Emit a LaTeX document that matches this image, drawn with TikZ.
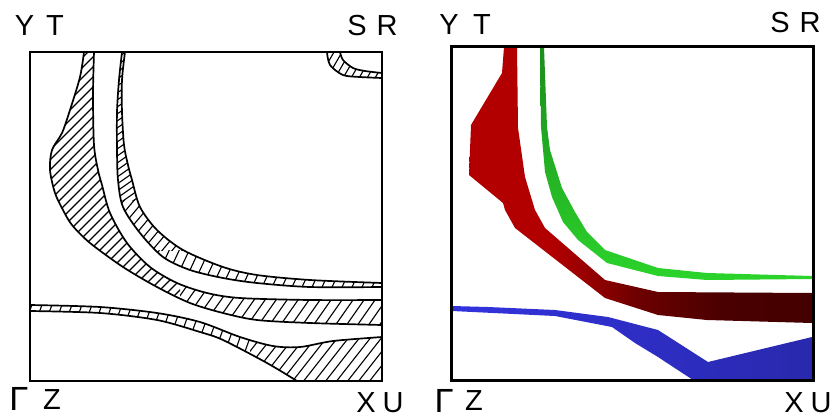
\documentclass[tikz,border=0pt]{standalone}
\usepackage{fontspec}
\setmainfont{Liberation Sans}
\newfontfamily\gammafont{Liberation Mono}
\definecolor{rA}{rgb}{0.70,0,0}
\definecolor{rB}{rgb}{0.42,0,0}
\definecolor{rC}{rgb}{0.29,0,0}
\definecolor{rD}{rgb}{0.27,0,0}
\definecolor{gTop}{rgb}{0.11,0.55,0.11}
\definecolor{gBot}{rgb}{0.17,0.83,0.17}
\definecolor{bL}{rgb}{0.20,0.20,0.87}
\definecolor{bR}{rgb}{0.16,0.16,0.68}
\pgfdeclarehorizontalshading{redsh}{100bp}{color(0bp)=(rA); color(25bp)=(rA); color(37bp)=(rA); color(50bp)=(rB); color(62bp)=(rC); color(75bp)=(rD); color(100bp)=(rD)}
\newcommand{\hatchset}[4]{\foreach \c in {#2,#3,...,#4} \draw[hatchline] (\c,420) -- ++(#1,-420);}
\def\bandA{plot[smooth] coordinates {(94,52) (93,95) (94,145) (98,170) (102,185) (110,213) (127,243) (150,267) (177,283) (207,293) (240,298) (310,300) (382,300)} -- (382,325) -- plot[smooth] coordinates {(382,325) (310,323) (257,320) (223,313) (190,303) (157,287) (123,267) (90,243) (72,225) (63,210) (55,193) (50,170) (52,150) (62,133) (70,110) (80,77) (84,52)} -- cycle}
\def\bandB{plot[smooth] coordinates {(125,52) (122,80) (122,112) (124,145) (128,165) (132,180) (140,207) (157,230) (183,250) (223,267) (257,275) (310,280) (382,283)} -- (382,287) -- plot[smooth] coordinates {(382,287) (310,287) (257,283) (223,278) (190,270) (163,257) (140,233) (123,207) (118,180) (117,150) (117,112) (119,80) (122,52)} -- cycle}
\def\bandC{plot[smooth] coordinates {(30,305) (100,307) (157,313) (200,322) (240,337) (273,346) (300,347) (333,341) (382,337)} -- (382,381) -- plot[smooth] coordinates {(297,381) (267,363) (223,340) (200,332) (157,320) (100,313) (30,311)} -- cycle}
\def\bandD{plot[smooth] coordinates {(327,52) (330,65) (343,75) (360,77) (382,78)} -- (382,73) -- plot[smooth] coordinates {(382,73) (365,71) (353,68) (343,60) (340,52)} -- cycle}
\begin{document}
\begin{tikzpicture}[x=1pt,y=-1pt,
  lbl/.style={font=\fontsize{29}{29}\selectfont, inner sep=0pt, anchor=center},
  glbl/.style={font=\fontsize{35}{35}\selectfont\gammafont, inner sep=0pt, anchor=center},
  bandline/.style={line width=1.7pt, line join=round},
  hatchline/.style={line width=1.1pt},
  frameA/.style={line width=2.4pt},
  frameB/.style={line width=3pt}]
\useasboundingbox (0,0) rectangle (835,418);
% ---------- left panel ----------
\begin{scope}
  \clip \bandA;
  \begin{scope}
    \clip (0,0) rectangle (180,420);
    \hatchset{420}{-340}{-330}{90}
  \end{scope}
  \begin{scope}
    \clip (180,0) rectangle (420,420);
    \hatchset{294}{60}{71}{340}
  \end{scope}
\end{scope}
\draw[bandline] \bandA;
\begin{scope}
  \clip \bandB;
  \begin{scope}
    \clip (0,0) rectangle (420,200);
    \hatchset{600}{-430}{-420}{-160}
  \end{scope}
  \begin{scope}
    \clip (0,200) rectangle (420,250);
    \hatchset{352}{-80}{-70}{60}
  \end{scope}
  \begin{scope}
    \clip (0,250) rectangle (420,420);
    \hatchset{196}{70}{80}{340}
  \end{scope}
\end{scope}
\draw[bandline] \bandB;
\begin{scope}
  \clip \bandC;
  \begin{scope}
    \clip (0,0) rectangle (250,420);
    \hatchset{153}{-40}{-30}{260}
  \end{scope}
  \begin{scope}
    \clip (250,0) rectangle (420,420);
    \hatchset{330}{130}{141}{380}
  \end{scope}
\end{scope}
\draw[bandline] \bandC;
\begin{scope}
  \clip \bandD;
  \hatchset{242}{90}{98}{210}
\end{scope}
\draw[bandline] \bandD;
\draw[frameA] (30,52) rectangle (382,381);
% ---------- right panel ----------
\shade[shading=redsh]
  (517,47) -- (518,128) -- (525,177) -- (535,210) -- (545,228) -- (605,280) -- (658,292) -- (812,293)
  -- (812,323) -- (707,320) -- (658,315) -- (605,298) -- (515,228) -- (505,210) -- (503,203)
  -- (469,175) -- (471,125) -- (502,73) -- (504,47) -- cycle;
\shade[top color=gTop, bottom color=gBot]
  (540,47) -- (541,127) -- (545,172) -- (552,197) -- (563,222) -- (578,240) -- (607,263) -- (658,276) -- (707,280) -- (812,279)
  -- (812,276) -- (707,273) -- (658,268) -- (605,250) -- (587,232) -- (575,212) -- (562,188) -- (550,150) -- (547,127) -- (544,47) -- cycle;
\shade[left color=bL, right color=bR]
  (452,306) -- (488,307) -- (555,310) -- (608,317) -- (658,330) -- (708,362) -- (812,337)
  -- (812,380) -- (693,380) -- (658,357) -- (635,343) -- (612,327) -- (555,316) -- (452,311) -- cycle;
\draw[frameB] (451,46) rectangle (813,380);
% ---------- labels ----------
\node[lbl] (Y1) at (24.5,26) {Y};
\node[lbl] (T1) at (55,26) {T};
\node[lbl] (S1) at (357,26) {S};
\node[lbl] (R1) at (387,26) {R};
\node[glbl] (G1) at (19,399) {Γ};
\node[lbl] (Z1) at (52,400) {Z};
\node[lbl] (X1) at (366,403) {X};
\node[lbl] (U1) at (393,403) {U};
\node[lbl] (Y2) at (449,25) {Y};
\node[lbl] (T2) at (482,25) {T};
\node[lbl] (S2) at (780,23) {S};
\node[lbl] (R2) at (810,23) {R};
\node[glbl] (G2) at (444,401) {Γ};
\node[lbl] (Z2) at (474,401) {Z};
\node[lbl] (X2) at (794,403) {X};
\node[lbl] (U2) at (821,403) {U};
\end{tikzpicture}
\end{document}
